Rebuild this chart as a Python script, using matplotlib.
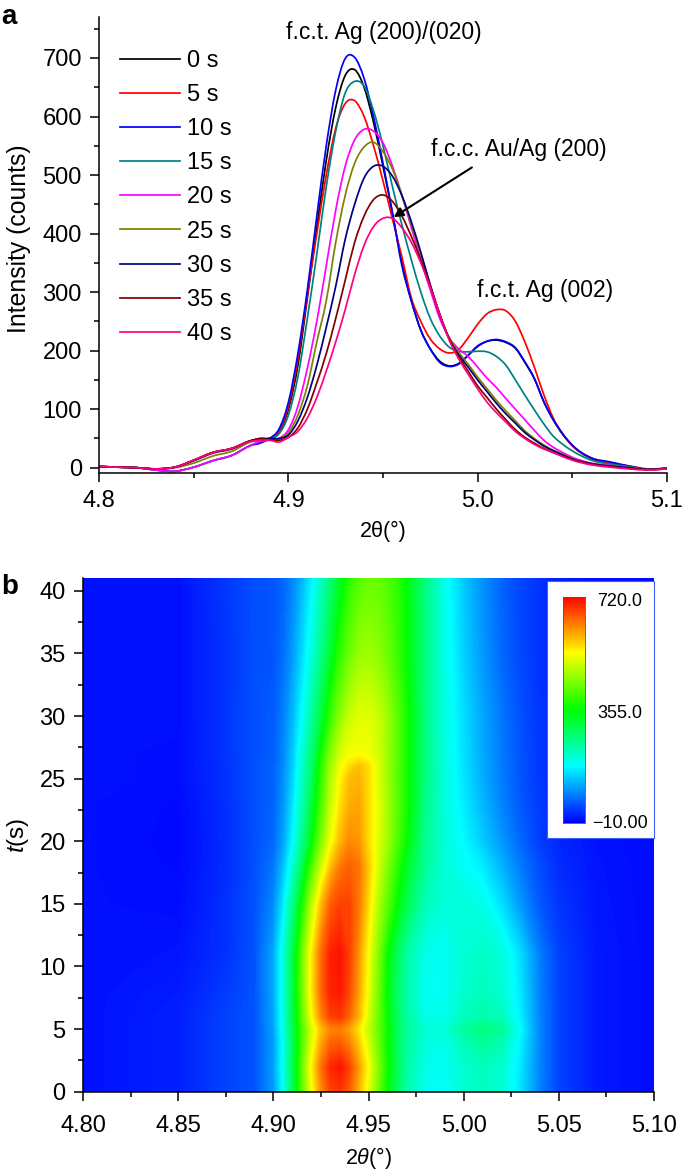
"""
XRD line profiles (a) and time/2theta intensity map (b).
Writes out.png
"""
import numpy as np
import matplotlib
matplotlib.use("Agg")
import matplotlib.pyplot as plt
from matplotlib.colors import LinearSegmentedColormap
from matplotlib.patches import PathPatch, Rectangle
from matplotlib.path import Path

plt.rcParams.update({"font.family": ["Liberation Sans", "DejaVu Sans"], "font.size": 17,
                     "mathtext.fontset": "custom", "mathtext.rm": "Liberation Sans",
                     "mathtext.it": "Liberation Sans:italic", "mathtext.bf": "Liberation Sans:bold",
                     "axes.linewidth": 1.1})

W, H = 685, 1175

# panel a
TTH = [4.80, 4.81, 4.82, 4.83, 4.84, 4.85, 4.86, 4.87, 4.88, 4.885, 4.89, 4.895, 4.90, 4.905, 4.91, 4.915,
       4.92, 4.925, 4.93, 4.935, 4.94, 4.945, 4.95, 4.955, 4.96, 4.965, 4.97, 4.975, 4.98, 4.985, 4.99, 4.995,
       5.00, 5.005, 5.01, 5.015, 5.02, 5.025, 5.03, 5.035, 5.04, 5.045, 5.05, 5.06, 5.07, 5.08, 5.09, 5.10]
I_0S = [2, 1, 0, -2, 1, 13, 26, 33, 46, 50, 50, 60, 100, 175, 290, 410,
        525, 615, 670, 680, 650, 590, 515, 435, 350, 285, 235, 203, 182, 174, 178, 192,
        207, 216, 218, 214, 204, 180, 152, 113, 82, 57, 38, 16, 8, 2, -3, -1]
I_5S = [2, 1, 0, -2, 1, 13, 26, 33, 46, 50, 50, 62, 105, 185, 295, 400,
        500, 580, 622, 627, 600, 550, 490, 425, 360, 290, 250, 220, 203, 196, 202, 222,
        245, 263, 270, 268, 250, 215, 172, 125, 85, 58, 38, 17, 8, 3, -2, -1]
I_10S = [2, 1, 0, -4, -6, 1, 12, 21, 38, 42, 50, 66, 112, 195, 304, 430,
         550, 645, 699, 701, 665, 600, 520, 435, 345, 285, 235, 203, 180, 173, 177, 192,
         208, 216, 219, 215, 205, 181, 153, 113, 82, 58, 39, 17, 10, 3, -3, -1]
I_15S = [2, 1, 0, -4, -6, 1, 12, 21, 38, 45, 49, 58, 90, 155, 255, 365,
         480, 575, 640, 660, 652, 610, 550, 480, 415, 355, 300, 255, 225, 206, 199, 198,
         199, 198, 190, 175, 150, 124, 99, 75, 54, 40, 29, 13, 6, 2, -3, -1]
I_20S = [2, 1, 0, -4, -6, 1, 12, 21, 38, 45, 47, 50, 65, 105, 170, 250,
         345, 440, 515, 560, 578, 575, 555, 515, 465, 410, 355, 304, 255, 222, 203, 190,
         172, 153, 137, 118, 100, 82, 64, 47, 35, 26, 18, 8, 4, 0, -3, -2]
I_25S = [2, 1, 0, -2, 0, 8, 20, 28, 44, 47, 48, 50, 60, 90, 140, 215,
         285, 385, 465, 520, 548, 556, 540, 510, 465, 415, 365, 312, 262, 222, 197, 177,
         155, 135, 115, 97, 80, 63, 50, 39, 30, 23, 16, 7, 3, 0, -3, -1]
I_30S = [2, 1, 0, -2, 1, 12, 25, 32, 46, 49, 50, 50, 56, 80, 120, 175,
         240, 310, 390, 450, 495, 515, 515, 498, 465, 420, 368, 312, 262, 220, 193, 172,
         150, 130, 110, 92, 76, 60, 48, 37, 29, 22, 15, 7, 3, 0, -3, -1]
I_35S = [2, 1, 0, -2, 1, 13, 26, 33, 46, 49, 48, 47, 52, 68, 100, 145,
         195, 255, 320, 385, 430, 458, 466, 455, 430, 395, 355, 310, 262, 220, 190, 165,
         140, 120, 100, 82, 65, 52, 42, 33, 26, 20, 14, 6, 2, -1, -3, -2]
I_40S = [2, 1, 0, -2, 1, 13, 26, 33, 45, 47, 47, 44, 52, 62, 85, 120,
         165, 215, 270, 330, 380, 412, 426, 426, 410, 385, 350, 308, 262, 218, 186, 160,
         135, 112, 94, 78, 62, 50, 40, 32, 26, 19, 13, 5, 1, -2, -4, -2]
CURVES = [I_0S, I_5S, I_10S, I_15S, I_20S, I_25S, I_30S, I_35S, I_40S]
LABELS = ["0 s", "5 s", "10 s", "15 s", "20 s", "25 s", "30 s", "35 s", "40 s"]
COLORS = ["#000000", "#ff0000", "#0000ff", "#008080", "#ff00ff", "#808000", "#000080", "#800000", "#ff0080"]

# panel b: map rows
MAP_X = [4.80, 4.85, 4.875, 4.89, 4.90, 4.905, 4.91, 4.915, 4.92, 4.925, 4.93, 4.935, 4.94, 4.945, 4.95,
         4.955, 4.96, 4.965, 4.97, 4.98, 4.99, 5.00, 5.01, 5.02, 5.03, 5.04, 5.05, 5.07, 5.10]
MAP_T = [0, 2, 4, 5, 6, 8, 11, 15, 18, 20, 23, 25, 26, 27, 30, 35, 41]
MAP_I = [
    [2, 13, 38, 50, 100, 175, 290, 410, 525, 615, 670, 680, 650, 590, 515, 435, 350, 285, 235, 182, 178, 207, 218, 204, 152, 82, 38, 8, -1],
    [2, 13, 38, 50, 105, 180, 295, 420, 540, 635, 690, 705, 670, 605, 530, 445, 360, 295, 240, 190, 182, 208, 222, 208, 155, 85, 38, 8, -1],
    [2, 13, 38, 50, 102, 178, 288, 402, 510, 595, 645, 650, 622, 570, 505, 430, 355, 290, 245, 198, 190, 225, 250, 228, 163, 85, 38, 8, -1],
    [2, 13, 38, 50, 105, 185, 295, 400, 500, 580, 622, 627, 600, 550, 490, 425, 360, 290, 250, 203, 202, 245, 270, 250, 172, 85, 38, 8, -1],
    [2, 13, 38, 50, 108, 188, 300, 415, 530, 620, 672, 680, 645, 585, 505, 430, 352, 288, 240, 190, 188, 218, 235, 220, 160, 85, 38, 8, -1],
    [2, 10, 33, 50, 110, 192, 302, 428, 548, 642, 695, 702, 665, 600, 520, 435, 347, 285, 236, 182, 180, 210, 222, 205, 155, 83, 38, 8, -1],
    [2, 5, 26, 50, 110, 192, 300, 425, 545, 640, 695, 705, 672, 610, 530, 445, 355, 292, 240, 188, 182, 205, 215, 200, 148, 80, 37, 8, -1],
    [2, 0, 25, 49, 90, 155, 255, 365, 480, 580, 650, 672, 672, 630, 560, 480, 415, 355, 300, 225, 199, 199, 190, 150, 99, 54, 29, 6, -1],
    [2, -2, 22, 48, 75, 125, 200, 295, 400, 495, 580, 630, 650, 635, 575, 505, 445, 385, 330, 245, 200, 180, 160, 120, 78, 45, 22, 5, -1],
    [2, -3, 22, 47, 65, 105, 170, 250, 345, 440, 525, 585, 620, 610, 560, 515, 465, 410, 355, 250, 203, 172, 137, 100, 64, 35, 18, 4, -2],
    [2, -2, 24, 48, 62, 95, 150, 225, 310, 400, 490, 555, 595, 600, 560, 520, 470, 420, 368, 258, 198, 160, 122, 85, 54, 32, 17, 4, -2],
    [2, 1, 26, 48, 60, 90, 140, 215, 285, 385, 475, 540, 585, 590, 560, 510, 465, 415, 365, 262, 197, 155, 115, 80, 50, 30, 16, 3, -1],
    [2, 1, 26, 48, 60, 88, 135, 205, 280, 375, 460, 525, 560, 582, 562, 512, 465, 418, 366, 262, 196, 153, 114, 79, 50, 30, 15, 3, -1],
    [2, 1, 28, 48, 58, 85, 132, 198, 270, 360, 445, 505, 528, 530, 525, 505, 465, 418, 368, 262, 195, 152, 112, 78, 50, 30, 15, 3, -1],
    [2, 2, 28, 48, 56, 80, 120, 175, 240, 310, 390, 450, 495, 515, 515, 498, 465, 420, 368, 262, 193, 150, 110, 76, 48, 29, 15, 3, -1],
    [2, 2, 28, 47, 52, 68, 100, 145, 195, 255, 320, 385, 430, 458, 466, 455, 430, 395, 355, 262, 190, 140, 100, 65, 42, 26, 14, 3, -2],
    [2, 2, 30, 46, 52, 62, 85, 120, 165, 215, 270, 330, 380, 412, 426, 426, 410, 385, 350, 262, 186, 135, 94, 62, 40, 26, 13, 1, -2],
]
CBAR_LABELS = ["720.0", "355.0", "\u221210.00"]
VMIN, VMAX = -10, 720
RAINBOW = LinearSegmentedColormap.from_list("rb", ["#0000ff", "#00ffff", "#00ff00", "#ffff00", "#ff0000"])


def px_axes(fig, x0, y0, x1, y1):
    # pixel box, y measured from the top of the image
    return fig.add_axes([x0 / W, 1 - y1 / H, (x1 - x0) / W, (y1 - y0) / H])


def style(ax):
    ax.spines[["top", "right"]].set_visible(False)
    ax.tick_params(which="major", direction="out", length=6.5, width=1.1, pad=6)
    ax.tick_params(which="minor", direction="out", length=3.6, width=1.1)


def smooth_path(x, y):
    # bezier segments through the read points, the points themselves stay as typed
    x = np.asarray(x, float); y = np.asarray(y, float)
    m = np.gradient(y, x)
    verts, codes = [(x[0], y[0])], [Path.MOVETO]
    for i in range(len(x) - 1):
        h = (x[i + 1] - x[i]) / 3
        verts += [(x[i] + h, y[i] + m[i] * h), (x[i + 1] - h, y[i + 1] - m[i + 1] * h), (x[i + 1], y[i + 1])]
        codes += [Path.CURVE4] * 3
    return Path(verts, codes)


def panel_a(fig):
    ax = px_axes(fig, 99.3, 17, 666.7, 473)
    for y, lab, c in zip(CURVES, LABELS, COLORS):
        ax.add_patch(PathPatch(smooth_path(TTH, y), fc="none", ec=c, lw=1.25))
        ax.plot([], [], color=c, lw=1.25, label=lab)
    ax.set_xlim(4.8, 5.1)
    ax.set_ylim(-9, 770)
    ax.set_xticks([4.8, 4.9, 5.0, 5.1])
    ax.set_xticks([4.85, 4.95, 5.05], minor=True)
    ax.set_yticks(range(0, 701, 100))
    ax.set_yticks(range(50, 751, 100), minor=True)
    style(ax)
    ax.set_xlabel("2\u03b8(\u00b0)", fontsize=15.5, labelpad=6)
    ax.set_ylabel("Intensity (counts)", fontsize=17.8, labelpad=8, y=0.514)
    ax.legend(loc="upper left", bbox_to_anchor=(0.0365, 0.928), frameon=False, fontsize=17,
              handlelength=2.54, handletextpad=0.3, labelspacing=0.515, borderpad=0, borderaxespad=0)
    ax.text(4.9505, 743, "f.c.t. Ag (200)/(020)", fontsize=16.5, ha="center", va="center")
    ax.text(4.9755, 543, "f.c.c. Au/Ag (200)", fontsize=16.5, ha="left", va="center")
    ax.text(4.9995, 303, "f.c.t. Ag (002)", fontsize=16.5, ha="left", va="center")
    ax.annotate("", xy=(4.9556, 428), xytext=(4.997, 513),
                arrowprops=dict(arrowstyle="-|>", color="black", lw=1.5, mutation_scale=14, shrinkA=0, shrinkB=0))


def panel_b(fig):
    ax = px_axes(fig, 83, 578.3, 654, 1091.7)
    levels = np.linspace(VMIN, VMAX, 256)
    ax.contourf(MAP_X, MAP_T, MAP_I, levels=levels, cmap=RAINBOW, extend="both", antialiased=False)
    ax.set_xlim(4.8, 5.1)
    ax.set_ylim(0, 41)
    ax.set_xticks(np.arange(4.80, 5.101, 0.05))
    ax.set_xticklabels([f"{v:.2f}" for v in np.arange(4.80, 5.101, 0.05)])
    ax.set_xticks(np.arange(4.825, 5.1, 0.05), minor=True)
    ax.set_yticks(range(0, 41, 5))
    ax.set_yticks(np.arange(2.5, 40, 5), minor=True)
    style(ax)
    ax.tick_params(axis="x", which="major", pad=10)
    ax.set_xlabel("2$\\mathit{\u03b8}$(\u00b0)", fontsize=15.5, labelpad=6)
    ax.set_ylabel("$\\mathit{t}$(s)", fontsize=17.5, labelpad=6)

    # colour scale sits on a white card in the corner of the map
    card = Rectangle((547 / W, 1 - 838 / H), 106.5 / W, 257 / H, transform=fig.transFigure,
                     facecolor="white", edgecolor="#4060ff", linewidth=0.8, zorder=5)
    fig.add_artist(card)
    cax = px_axes(fig, 563, 597, 585, 823)
    cax.imshow(np.linspace(1, 0, 256)[:, None], cmap=RAINBOW, aspect="auto", vmin=0, vmax=1)
    cax.set_xticks([]); cax.set_yticks([])
    for s in cax.spines.values():
        s.set_color("#505060"); s.set_linewidth(0.6)
    cax.set_zorder(6)
    for yp, lab in zip([601, 713, 823], CBAR_LABELS):
        fig.text(620 / W, 1 - yp / H, lab, fontsize=13, ha="center", va="center", zorder=7)


def main():
    fig = plt.figure(figsize=(W / 100, H / 100), dpi=100)
    panel_a(fig)
    panel_b(fig)
    fig.text(1 / W, 1 - 17 / H, "a", fontsize=20, fontweight="bold", va="center")
    fig.text(1 / W, 1 - 587 / H, "b", fontsize=20, fontweight="bold", va="center")
    fig.savefig("out.png", dpi=100)


if __name__ == "__main__":
    main()
